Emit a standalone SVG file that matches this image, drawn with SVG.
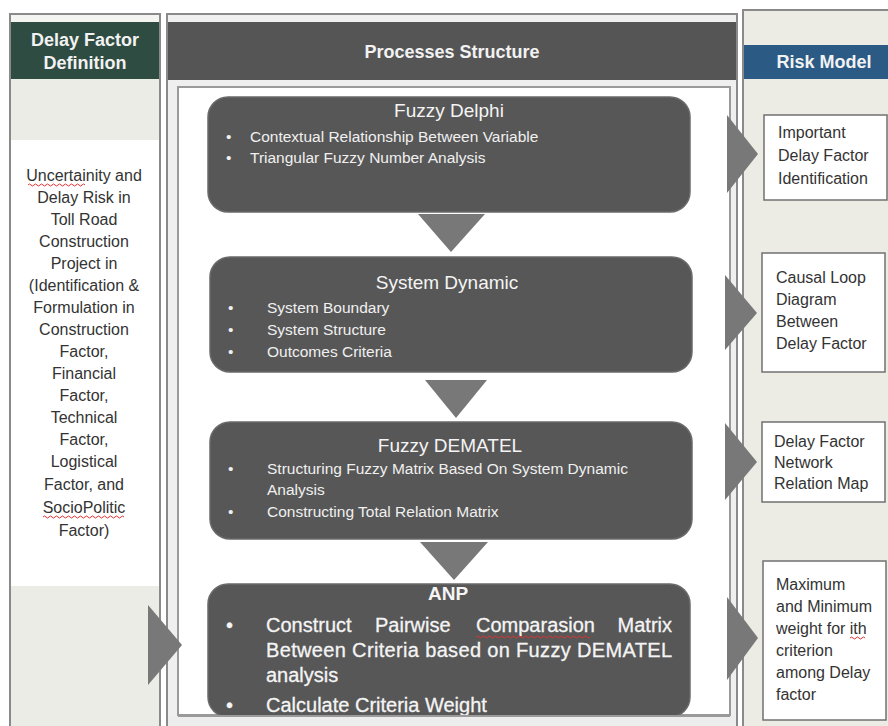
<svg xmlns="http://www.w3.org/2000/svg" width="888" height="726" viewBox="0 0 888 726">
<defs>
<style>
.col{stroke:#8a8a8a;stroke-width:2;}
.hdr{font-family:"Liberation Sans",Arial,sans-serif;font-weight:bold;font-size:18px;fill:#f2f2f2;text-anchor:middle;}
.box{fill:#575757;stroke:#6a6a6a;stroke-width:1.5;}
.ttl{font-family:"Liberation Sans",Arial,sans-serif;font-size:19px;fill:#f4f4f4;text-anchor:middle;}
.bl{font-family:"Liberation Sans",Arial,sans-serif;font-size:15.5px;fill:#f0f0f0;}
.anp{font-family:"Liberation Sans",Arial,sans-serif;font-size:20px;fill:#f4f4f4;stroke:#f4f4f4;stroke-width:0.3;}
.lt{font-family:"Liberation Sans",Arial,sans-serif;font-size:16px;fill:#333;text-anchor:middle;}
.rm{fill:#ffffff;stroke:#707070;stroke-width:1.5;}
.rt{font-family:"Liberation Sans",Arial,sans-serif;font-size:16px;fill:#333;}
.tri{fill:#787878;}
.sq{fill:none;stroke:#d33;stroke-width:1;}
</style>
</defs>
<rect width="888" height="726" fill="#ffffff"/>

<g id="left-column">
<rect class="col" x="10" y="14" width="150" height="720" fill="#f4f4f0"/>
<rect x="11" y="22" width="148" height="57" fill="#2f4c42"/>
<rect x="11" y="79" width="148" height="61" fill="#ecece6"/>
<rect x="11" y="140" width="148" height="446" fill="#ffffff"/>
<rect x="11" y="586" width="148" height="140" fill="#ecece6"/>
<text class="hdr" x="85" y="46">Delay Factor</text>
<text class="hdr" x="85" y="69">Definition</text>
<g class="lt">
<text x="84" y="181">Uncertainity and</text>
<text x="84" y="203">Delay Risk in</text>
<text x="84" y="225">Toll Road</text>
<text x="84" y="247">Construction</text>
<text x="84" y="269">Project in</text>
<text x="84" y="291">(Identification &amp;</text>
<text x="84" y="313">Formulation in</text>
<text x="84" y="335">Construction</text>
<text x="84" y="357">Factor,</text>
<text x="84" y="379">Financial</text>
<text x="84" y="401">Factor,</text>
<text x="84" y="423">Technical</text>
<text x="84" y="445">Factor,</text>
<text x="84" y="467">Logistical</text>
<text x="84" y="490">Factor, and</text>
<text x="84" y="513">SocioPolitic</text>
<text x="84" y="536">Factor)</text>
</g>
<path class="sq" d="M28 185 q1.5 -2 3 0 t3 0 t3 0 t3 0 t3 0 t3 0 t3 0 t3 0 t3 0 t3 0 t3 0 t3 0 t3 0 t3 0 t3 0 t3 0 t3 0 t3 0 t3 0"/>
<path class="sq" d="M43 517 q1.5 -2 3 0 t3 0 t3 0 t3 0 t3 0 t3 0 t3 0 t3 0 t3 0 t3 0 t3 0 t3 0 t3 0 t3 0 t3 0 t3 0 t3 0 t3 0 t3 0 t3 0 t3 0 t3 0 t3 0 t3 0 t3 0 t3 0 t3 0"/>
</g>

<g id="middle-column">
<rect class="col" x="167" y="14" width="570" height="720" fill="#efefef"/>
<rect x="168" y="22" width="568" height="58" fill="#555555"/>
<text class="hdr" x="452" y="58">Processes Structure</text>
<rect x="178" y="87" width="552" height="628" fill="#ffffff" stroke="#9a9a9a" stroke-width="2"/>
</g>

<g id="right-column">
<rect class="col" x="743" y="10" width="150" height="720" fill="#ecece5"/>
<rect x="744" y="45" width="144" height="34" fill="#2b5b85"/>
<text class="hdr" x="824" y="68">Risk Model</text>
</g>

<g id="fuzzy-delphi">
<rect class="box" x="208" y="97" width="482" height="115" rx="20"/>
<text class="ttl" x="449" y="117">Fuzzy Delphi</text>
<text class="bl" x="226" y="142">•</text>
<text class="bl" x="250" y="142">Contextual Relationship Between Variable</text>
<text class="bl" x="226" y="163">•</text>
<text class="bl" x="250" y="163">Triangular Fuzzy Number Analysis</text>
</g>

<g id="system-dynamic">
<rect class="box" x="210" y="257" width="482" height="115" rx="20"/>
<text class="ttl" x="447" y="289">System Dynamic</text>
<text class="bl" x="228" y="313">•</text>
<text class="bl" x="267" y="313">System Boundary</text>
<text class="bl" x="228" y="335">•</text>
<text class="bl" x="267" y="335">System Structure</text>
<text class="bl" x="228" y="357">•</text>
<text class="bl" x="267" y="357">Outcomes Criteria</text>
</g>

<g id="fuzzy-dematel">
<rect class="box" x="210" y="422" width="482" height="117" rx="20"/>
<text class="ttl" x="450" y="452">Fuzzy DEMATEL</text>
<text class="bl" x="228" y="474">•</text>
<text class="bl" x="267" y="474">Structuring Fuzzy Matrix Based On System Dynamic</text>
<text class="bl" x="267" y="495">Analysis</text>
<text class="bl" x="228" y="517">•</text>
<text class="bl" x="267" y="517">Constructing Total Relation Matrix</text>
</g>

<g id="anp">
<rect class="box" x="208" y="584" width="482" height="133" rx="20"/>
<text class="ttl" x="448" y="600" font-weight="bold" font-size="18">ANP</text>
<text class="anp" x="226" y="632">•</text>
<text class="anp" x="266" y="632">Construct</text>
<text class="anp" x="375" y="632">Pairwise</text>
<text class="anp" x="476" y="632">Comparasion</text>
<text class="anp" x="672" y="632" text-anchor="end">Matrix</text>
<text class="anp" x="266" y="657" textLength="406" lengthAdjust="spacing">Between Criteria  based on Fuzzy DEMATEL</text>
<text class="anp" x="266" y="682">analysis</text>
<text class="anp" x="226" y="712">•</text>
<text class="anp" x="266" y="712">Calculate Criteria Weight</text>
<path class="sq" d="M476 637 q1.5 -2 3 0 t3 0 t3 0 t3 0 t3 0 t3 0 t3 0 t3 0 t3 0 t3 0 t3 0 t3 0 t3 0 t3 0 t3 0 t3 0 t3 0 t3 0 t3 0 t3 0 t3 0 t3 0 t3 0 t3 0 t3 0 t3 0 t3 0 t3 0 t3 0 t3 0 t3 0 t3 0 t3 0 t3 0 t3 0 t3 0 t3 0 t3 0"/>
<rect x="168" y="716" width="568" height="10" fill="#ededed"/>
<line x1="178" y1="716" x2="730" y2="716" stroke="#9a9a9a" stroke-width="2"/>
</g>

<g id="risk-1">
<rect class="rm" x="764" y="115" width="123" height="85"/>
<text class="rt" x="778" y="138">Important</text>
<text class="rt" x="778" y="161">Delay Factor</text>
<text class="rt" x="778" y="184">Identification</text>
</g>

<g id="risk-2">
<rect class="rm" x="762" y="253" width="123" height="119"/>
<text class="rt" x="776" y="283">Causal Loop</text>
<text class="rt" x="776" y="305">Diagram</text>
<text class="rt" x="776" y="327">Between</text>
<text class="rt" x="776" y="349">Delay Factor</text>
</g>

<g id="risk-3">
<rect class="rm" x="762" y="422" width="123" height="80"/>
<text class="rt" x="774" y="447">Delay Factor</text>
<text class="rt" x="774" y="468">Network</text>
<text class="rt" x="774" y="489">Relation Map</text>
</g>

<g id="risk-4">
<rect class="rm" x="763" y="561" width="123" height="159"/>
<text class="rt" x="776" y="590">Maximum</text>
<text class="rt" x="776" y="612">and Minimum</text>
<text class="rt" x="776" y="634">weight for ith</text>
<text class="rt" x="776" y="656">criterion</text>
<text class="rt" x="776" y="678">among Delay</text>
<text class="rt" x="776" y="700">factor</text>
<path class="sq" d="M850 638 q1.5 -2 3 0 t3 0 t3 0 t3 0 t3 0"/>
</g>

<g id="connectors">
<polygon class="tri" points="418,214 485,214 451,252"/>
<polygon class="tri" points="425,380 487,380 456,418"/>
<polygon class="tri" points="420,542 488,542 454,580"/>
<polygon class="tri" points="727,115 758,154 727,193"/>
<polygon class="tri" points="725,275 757,313 725,350"/>
<polygon class="tri" points="725,423 757,462 725,500"/>
<polygon class="tri" points="727,597 758,638 727,680"/>
<polygon class="tri" points="148,605 182,645 148,685"/>
</g>
</svg>
